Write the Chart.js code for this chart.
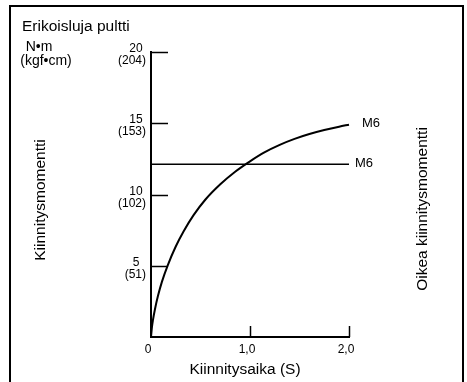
<!DOCTYPE html>
<html>
<head>
<meta charset="utf-8">
<script src="https://cdn.jsdelivr.net/npm/chart.js@4.4.1/dist/chart.umd.min.js"></script>
<style>
  html, body { margin: 0; padding: 0; background: #fff; }
  #wrap { width: 467px; height: 382px; }
</style>
</head>
<body>
<div id="wrap"><canvas id="torqueChart" width="467" height="382"></canvas></div>
<script>
// Data
const timeValues = [0, 0.01, 0.02, 0.04, 0.07, 0.11, 0.17, 0.25, 0.33, 0.43, 0.55, 0.7, 0.85, 1.0, 1.15, 1.3, 1.45, 1.6, 1.75, 1.9, 2.0];
const torqueValues = [0, 0.73, 1.2, 1.95, 2.87, 3.87, 5.05, 6.35, 7.42, 8.55, 9.65, 10.72, 11.6, 12.33, 12.97, 13.48, 13.9, 14.24, 14.52, 14.76, 14.9];
const realTime = [0, 2.0];
const realTorque = [12.13, 12.13];
const yTickValues = [5, 10, 15, 20];
const yTickSub = ['(51)', '(102)', '(153)', '(204)'];
const xTickValues = [1, 2];
const seriesLabels = ['M6', 'M6'];

const FONT = '"Liberation Sans", Arial, sans-serif';

function toPoints(xs, ys) {
  return xs.map(function(x, i) { return { x: x, y: ys[i] }; });
}

// Draws inner tick marks, tick labels, titles and the frame
const decorPlugin = {
  id: 'decor',
  afterDraw: function(chart) {
    const ctx = chart.ctx;
    const xs = chart.scales.x;
    const ys = chart.scales.y;
    const area = chart.chartArea;
    ctx.save();
    ctx.strokeStyle = '#000';
    ctx.fillStyle = '#000';

    // frame
    ctx.lineWidth = 2;
    ctx.beginPath();
    ctx.moveTo(10, 390);
    ctx.lineTo(10, 6);
    ctx.lineTo(463, 6);
    ctx.lineTo(463, 390);
    ctx.stroke();

    // y ticks pointing inward
    ctx.lineWidth = 1.5;
    yTickValues.forEach(function(v, i) {
      const py = Math.round(ys.getPixelForValue(v)) + 0.5;
      ctx.beginPath();
      ctx.moveTo(area.left, py);
      ctx.lineTo(area.left + 17, py);
      ctx.stroke();
      ctx.font = '12px ' + FONT;
      ctx.textBaseline = 'middle';
      ctx.textAlign = 'center';
      ctx.fillText(String(v), area.left - 15, py - 4);
      ctx.textAlign = 'right';
      ctx.fillText(yTickSub[i], area.left - 5, py + 8);
    });

    // x ticks pointing inward
    xTickValues.forEach(function(v) {
      const px = Math.round(xs.getPixelForValue(v)) + 0.5;
      ctx.beginPath();
      ctx.moveTo(px, area.bottom);
      ctx.lineTo(px, area.bottom - 11);
      ctx.stroke();
    });

    // series labels
    ctx.font = '13px ' + FONT;
    ctx.textAlign = 'left';
    ctx.textBaseline = 'middle';
    const endA = toPoints(timeValues, torqueValues).pop();
    const endB = toPoints(realTime, realTorque).pop();
    ctx.fillText(seriesLabels[0], xs.getPixelForValue(endA.x) + 13, ys.getPixelForValue(endA.y) - 1);
    ctx.fillText(seriesLabels[1], xs.getPixelForValue(endB.x) + 6, ys.getPixelForValue(endB.y) - 1);

    // titles
    ctx.font = '15.5px ' + FONT;
    ctx.textAlign = 'left';
    ctx.fillText('Erikoisluja pultti', 22, 27);
    ctx.font = '14px ' + FONT;
    ctx.textAlign = 'center';
    ctx.fillText('N\u2022m', 39, 47);
    ctx.fillText('(kgf\u2022cm)', 46, 61);
    ctx.font = '15.5px ' + FONT;
    ctx.fillText('Kiinnitysaika (S)', 245, 370);

    ctx.save();
    ctx.translate(41, 200);
    ctx.rotate(-Math.PI / 2);
    ctx.fillText('Kiinnitysmomentti', 0, 0);
    ctx.restore();

    ctx.save();
    ctx.translate(423, 209);
    ctx.rotate(-Math.PI / 2);
    ctx.fillText('Oikea kiinnitysmomentti', 0, 0);
    ctx.restore();

    ctx.restore();
  }
};

const ctx = document.getElementById('torqueChart').getContext('2d');
const torqueChart = new Chart(ctx, {
  type: 'scatter',
  data: {
    datasets: [{
      label: seriesLabels[0],
      data: toPoints(timeValues, torqueValues),
      showLine: true,
      borderColor: '#000',
      borderWidth: 2,
      pointRadius: 0,
      cubicInterpolationMode: 'monotone',
      clip: false
    }, {
      label: seriesLabels[1],
      data: toPoints(realTime, realTorque),
      showLine: true,
      borderColor: '#000',
      borderWidth: 1.5,
      pointRadius: 0,
      clip: false
    }]
  },
  options: {
    responsive: false,
    animation: false,
    devicePixelRatio: 1,
    layout: { padding: { left: 51, right: 118, top: 52, bottom: 0 } },
    plugins: {
      legend: { display: false },
      tooltip: { enabled: false }
    },
    scales: {
      x: {
        type: 'linear',
        min: 0,
        max: 2,
        afterFit: function(scale) { scale.height = 45; },
        afterBuildTicks: function(scale) {
          scale.ticks = [0, 1, 2].map(function(v) { return { value: v }; });
        },
        grid: { display: false, drawTicks: false },
        border: { display: true, color: '#000', width: 2 },
        ticks: {
          color: '#000',
          font: { family: FONT, size: 12 },
          padding: 5,
          labelOffset: -3,
          maxRotation: 0,
          callback: function(v) { return v === 0 ? '0' : v.toFixed(1).replace('.', ','); }
        }
      },
      y: {
        type: 'linear',
        min: 0,
        max: 20,
        afterFit: function(scale) { scale.width = 100; },
        grid: { display: false, drawTicks: false },
        border: { display: true, color: '#000', width: 2 },
        ticks: { display: false, stepSize: 5 }
      }
    }
  },
  plugins: [decorPlugin]
});
</script>
</body>
</html>
